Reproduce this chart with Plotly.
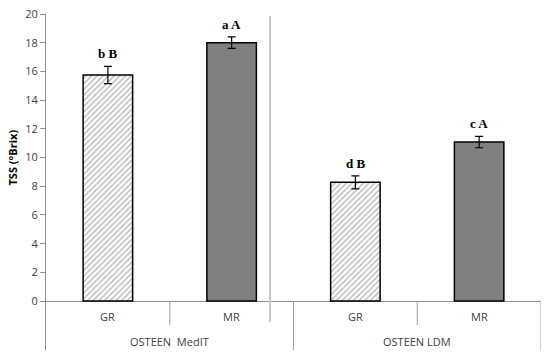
import plotly.graph_objects as go

categories = ["GR", "MR", "GR", "MR"]
groups = ["OSTEEN  MedIT", "OSTEEN LDM"]
values = [15.75, 18.0, 8.27, 11.08]
errors = [0.6, 0.4, 0.45, 0.4]
letters = ["b B", "a A", "d B", "c A"]
y_ticks = [0, 2, 4, 6, 8, 10, 12, 14, 16, 18, 20]

xpos = [i + 0.5 for i in range(len(categories))]
ymin = -3.41

fig = go.Figure()

gr_idx = [i for i, c in enumerate(categories) if c == "GR"]
mr_idx = [i for i, c in enumerate(categories) if c == "MR"]

fig.add_trace(go.Bar(
    x=[xpos[i] for i in gr_idx], y=[values[i] for i in gr_idx],
    width=0.4,
    marker=dict(color="white", line=dict(color="black", width=1.5),
                pattern=dict(shape="/", fgcolor="#6e6e6e", bgcolor="white", size=4, solidity=0.35)),
    error_y=dict(type="data", array=[errors[i] for i in gr_idx], color="black", thickness=1.2, width=4),
    showlegend=False,
))
fig.add_trace(go.Bar(
    x=[xpos[i] for i in mr_idx], y=[values[i] for i in mr_idx],
    width=0.4,
    marker=dict(color="#808080", line=dict(color="black", width=1.5)),
    error_y=dict(type="data", array=[errors[i] for i in mr_idx], color="black", thickness=1.2, width=4),
    showlegend=False,
))

annotations = []
for i in range(len(categories)):
    annotations.append(dict(
        x=xpos[i], y=values[i] + errors[i], xref="x", yref="y",
        text="<b>%s</b>" % letters[i], showarrow=False, yanchor="bottom", yshift=3,
        font=dict(family="Liberation Serif", size=13, color="black")))
    annotations.append(dict(
        x=xpos[i], y=-1.1, xref="x", yref="y", text=categories[i], showarrow=False,
        font=dict(family="Open Sans", size=11, color="#404040")))
for g, name in enumerate(groups):
    annotations.append(dict(
        x=2 * g + 1, y=-2.85, xref="x", yref="y", text=name, showarrow=False,
        font=dict(family="Open Sans", size=11, color="#404040")))
annotations.append(dict(
    x=(12 - 46) / (550 - 46 - 9), y=(350 - 157.5) / (350 - 14),
    xref="paper", yref="paper", text="<b>TSS (°Brix)</b>",
    showarrow=False, textangle=-90, xanchor="center", yanchor="middle",
    font=dict(family="Open Sans", size=11, color="black")))

shapes = []
for xs, yb in [(1, -1.67), (2, ymin), (3, -1.67), (4, ymin)]:
    shapes.append(dict(type="line", xref="x", yref="y", x0=xs, x1=xs, y0=0, y1=yb,
                       line=dict(color="#a0a0a0", width=1)))
shapes.append(dict(type="line", xref="x", yref="y", x0=1.81, x1=1.81, y0=19.86, y1=-1.46,
                   line=dict(color="#c8c8c8", width=2)))

fig.update_layout(
    width=550, height=358,
    margin=dict(l=46, r=9, t=14, b=8),
    paper_bgcolor="white", plot_bgcolor="white",
    bargap=0,
    xaxis=dict(range=[0, 4], visible=False, fixedrange=True, automargin=False),
    yaxis=dict(range=[ymin, 20], tickvals=y_ticks, ticks="outside", ticklen=5,
               tickcolor="#909090", showline=True, linecolor="#909090", linewidth=1,
               showgrid=False, zeroline=True, zerolinecolor="#909090", zerolinewidth=1,
               automargin=False, fixedrange=True,
               tickfont=dict(family="Open Sans", size=11, color="#404040")),
    annotations=annotations,
    shapes=shapes,
)

fig.write_html("out.html", config={"displayModeBar": False, "staticPlot": True},
               post_script="document.body.style.margin='0';")
